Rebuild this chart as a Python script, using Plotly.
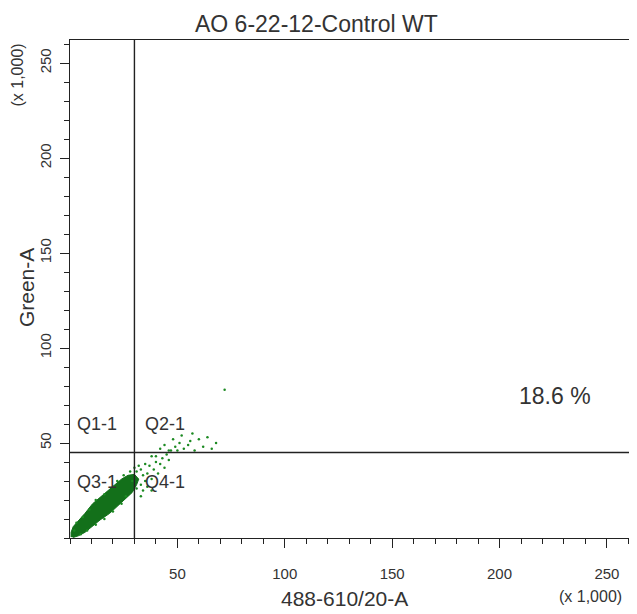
import plotly.graph_objects as go

# ---- data (x 1,000 units) ----
title_text = "AO 6-22-12-Control WT"
x_label = "488-610/20-A"
y_label = "Green-A"
axis_max = 262.144
tick_vals = [50, 100, 150, 200, 250]
tick_text = ["50", "100", "150", "200", "250"]

gate_x = 30
gate_y = 45

# outline of the dense core of events
core_x = [0.5, 0.5, 1.5, 4, 7, 10.5, 14, 18, 21, 24, 27, 30, 32, 31, 29, 26, 22, 18.5, 14, 10, 7, 4, 1.5]
core_y = [0.5, 3, 6, 9, 13, 18, 21.5, 25.5, 28.5, 31, 33, 33.5, 31, 28, 24, 21, 17, 13, 9.5, 5.5, 3, 1.2, 0.3]

# sparse events
ev_x = [31, 33, 34, 35, 33, 36, 37, 38, 35, 39, 40, 41, 36, 38, 34, 32, 30, 28, 42, 43, 44, 40, 38, 45, 46,
        42, 44, 47, 49, 51, 53, 55, 58, 60, 62, 66, 68, 48, 52, 56, 64, 46, 50, 57, 72,
        3, 6, 9, 12, 8, 12, 16, 20, 24, 26, 16, 20, 22, 25, 5, 2, 29, 31, 33]
ev_y = [35, 36, 33, 30, 28, 34, 38, 31, 39, 36, 40, 34, 27, 25, 25, 38, 37, 35, 39, 42, 37, 43, 43, 44, 41,
        47, 49, 46, 48, 50, 47, 49, 46, 52, 48, 47, 50, 52, 54, 51, 53, 46, 46, 55, 78,
        8, 11, 15, 20, 4, 7, 10, 14, 18, 22, 23, 27, 30, 33, 2, 4, 30, 26, 22]

quad_labels = ["Q1-1", "Q2-1", "Q3-1", "Q4-1"]
quad_x = [12.6, 44.2, 12.6, 44.2]
quad_y = [60, 60, 29.5, 29.5]
pct_text = "18.6 %"
pct_x, pct_y = 225.8, 74.7

FONT = "Liberation Sans, Arial, sans-serif"
TXT = "#333333"
GREEN = "#13701a"

fig = go.Figure()
fig.add_trace(go.Scatter(x=core_x, y=core_y, mode="lines", fill="toself",
                         fillcolor=GREEN, line=dict(color=GREEN, width=1),
                         hoverinfo="skip", showlegend=False))
fig.add_trace(go.Scatter(x=ev_x, y=ev_y, mode="markers",
                         marker=dict(size=2.5, color="#1c8a22"),
                         hoverinfo="skip", showlegend=False))
# gates
fig.add_trace(go.Scatter(x=[gate_x, gate_x], y=[0, axis_max], mode="lines",
                         line=dict(color="#222222", width=1.4), hoverinfo="skip", showlegend=False))
fig.add_trace(go.Scatter(x=[0, axis_max], y=[gate_y, gate_y], mode="lines",
                         line=dict(color="#222222", width=1.4), hoverinfo="skip", showlegend=False))

axis_common = dict(range=[0, axis_max], showgrid=False, zeroline=False,
                   showline=True, linecolor="#222222", linewidth=1.4, mirror=True,
                   ticks="outside", ticklen=9, tickwidth=1.2, tickcolor="#222222",
                   tickvals=tick_vals, ticktext=tick_text,
                   minor=dict(dtick=10, tick0=0, ticks="outside", ticklen=5, tickwidth=1.2, tickcolor="#222222"),
                   tickfont=dict(family=FONT, size=15, color=TXT), automargin=False)

fig.update_xaxes(**axis_common, ticklabelstandoff=13)
fig.update_yaxes(**axis_common, tickangle=-90, ticklabelstandoff=3)


def note(x, y, text, size, ref="paper", angle=0):
    return dict(x=x, y=y, xref=ref if ref == "paper" else "x", yref=ref if ref == "paper" else "y",
                text=text, showarrow=False, xanchor="center", yanchor="middle",
                textangle=angle, font=dict(family=FONT, size=size, color=TXT))


ann = [note(x, y, t, 18, ref="data") for t, x, y in zip(quad_labels, quad_x, quad_y)]
ann.append(note(pct_x, pct_y, pct_text, 23, ref="data"))
ann.append(note(0.437, 1.032, title_text, 23))
ann.append(note(0.488, -0.1205, x_label, 21))
ann.append(note(0.924, -0.1165, "(x 1,000)", 16))
ann.append(note(-0.078, 0.502, y_label, 21, angle=-90))
ann.append(note(-0.093, 0.93, "(x 1,000)", 16, angle=-90))

# page body adds an 8px margin, so the figure is shrunk by that much
fig.update_layout(width=629, height=606, margin=dict(l=62, r=4, t=32, b=76),
                  paper_bgcolor="white", plot_bgcolor="white",
                  annotations=ann, hovermode=False)

fig.write_html("out.html")
